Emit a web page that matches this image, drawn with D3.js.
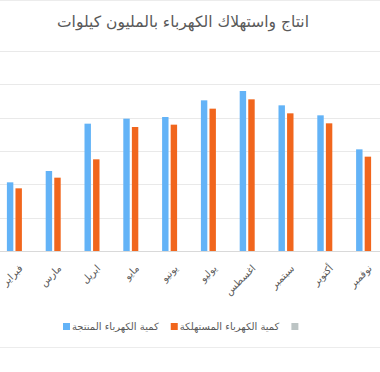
<!DOCTYPE html>
<html>
<head>
<meta charset="utf-8">
<script src="https://cdn.jsdelivr.net/npm/d3@7"></script>
<style>
  body { margin: 0; background: #fff; }
  svg { display: block; font-family: "DejaVu Sans", sans-serif; }
</style>
</head>
<body>
<div id="chart-area"></div>
<script>
// chart data
const months = ['فبراير', 'مارس', 'ابريل', 'مايو', 'يونيو', 'يوليو', 'اغسطس', 'سبتمبر', 'أكتوبر', 'نوفمبر'];
const produced = [1030, 1200, 1910, 1985, 2010, 2260, 2400, 2185, 2035, 1525];
const consumed = [940, 1100, 1375, 1860, 1895, 2135, 2275, 2065, 1915, 1415];
const seriesNames = ['كمية الكهرباء المنتجة', 'كمية الكهرباء المستهلكة', ''];
const yTicks = [0, 500, 1000, 1500, 2000, 2500, 3000];
const title = 'انتاج واستهلاك الكهرباء بالمليون كيلوات';

const colors = ['#63b3f7', '#f1661d', '#bcc4c4'];
const W = 380, H = 372;

const svg = d3.select('#chart-area')
  .append('svg')
  .attr('width', W)
  .attr('height', H);

// frame lines (chart is cropped)
svg.append('line').attr('x1', 0).attr('x2', W).attr('y1', 0.5).attr('y2', 0.5)
  .attr('stroke', '#ececec');
svg.append('line').attr('x1', 0).attr('x2', W).attr('y1', 347.5).attr('y2', 347.5)
  .attr('stroke', '#ececec');

// title
svg.append('text')
  .attr('x', 183)
  .attr('y', 27)
  .attr('text-anchor', 'middle')
  .attr('font-size', '15.5px')
  .attr('fill', '#595959')
  .text(title);

// scales
const x = d3.scaleBand()
  .domain(months)
  .range([-5, 383]);

const x1 = d3.scaleBand()
  .domain([0, 1])
  .range([0, 15])
  .paddingInner(0.25);

const y = d3.scaleLinear()
  .domain([0, 3000])
  .range([251, 51]);

// gridlines
svg.append('g')
  .selectAll('line')
  .data(yTicks)
  .enter()
  .append('line')
  .attr('x1', 0)
  .attr('x2', W)
  .attr('y1', d => Math.round(y(d)) + 0.5)
  .attr('y2', d => Math.round(y(d)) + 0.5)
  .attr('stroke', d => d === 0 ? '#d9d9d9' : '#e9e9e9');

// bars
const groups = svg.append('g')
  .selectAll('g')
  .data(months)
  .enter()
  .append('g')
  .attr('transform', d => 'translate(' + (x(d) + x.bandwidth() / 2 - 7.5) + ',0)');

[produced, consumed].forEach((vals, s) => {
  groups.append('rect')
    .attr('x', x1(s))
    .attr('width', x1.bandwidth())
    .attr('y', (d, i) => y(vals[i]))
    .attr('height', (d, i) => y(0) - y(vals[i]))
    .attr('fill', colors[s]);
});

// month labels
svg.append('g')
  .selectAll('text')
  .data(months)
  .enter()
  .append('text')
  .attr('transform', d => 'translate(' + (x(d) + x.bandwidth() / 2 + 4) + ',264) rotate(-45)')
  .attr('text-anchor', 'end')
  .attr('dy', '0.7em')
  .attr('font-size', '10px')
  .attr('fill', '#595959')
  .text(d => d);

// legend
const legend = svg.append('g');
let lx = 63;
seriesNames.forEach((name, s) => {
  legend.append('rect')
    .attr('x', lx)
    .attr('y', 323)
    .attr('width', 7)
    .attr('height', 7)
    .attr('fill', colors[s]);
  const t = legend.append('text')
    .attr('x', lx + 9)
    .attr('y', 330)
    .attr('font-size', '10px')
    .attr('fill', '#595959')
    .text(name);
  lx += 9 + t.node().getComputedTextLength() + 12;
});
</script>
</body>
</html>
